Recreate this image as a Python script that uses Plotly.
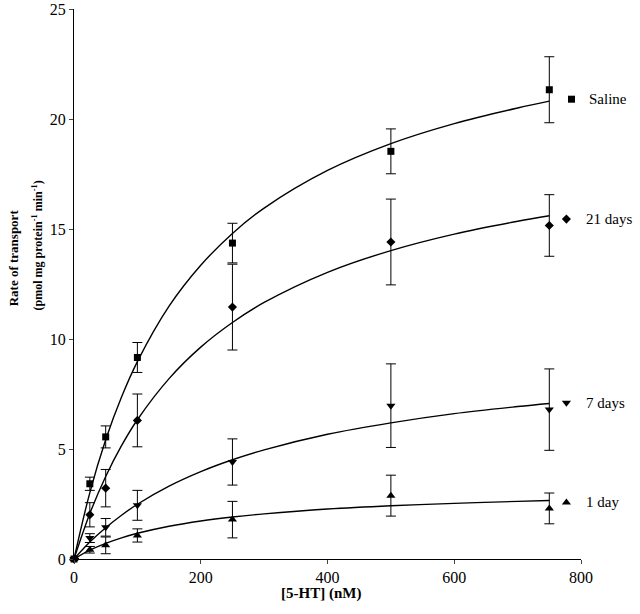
import plotly.graph_objects as go

# ---- data ----
conc = [0, 25, 50, 100, 250, 500, 750]

saline = [0, 3.42, 5.55, 9.16, 14.36, 18.53, 21.33]
saline_err = [0, 0.30, 0.50, 0.68, 0.90, 1.02, 1.50]

days21 = [0, 2.01, 3.22, 6.30, 11.45, 14.41, 15.16]
days21_err = [0, 0.55, 0.85, 1.20, 1.95, 1.95, 1.40]

days7 = [0, 0.95, 1.44, 2.44, 4.41, 6.97, 6.79]
days7_err = [0, 0.20, 0.40, 0.68, 1.05, 1.90, 1.85]

day1 = [0, 0.42, 0.62, 1.07, 1.79, 2.88, 2.30]
day1_err = [0, 0.15, 0.38, 0.30, 0.83, 0.93, 0.70]

# fitted curves
curve_x = [0, 25, 50, 75, 100, 150, 200, 250, 300, 400, 500, 600, 700, 750]
saline_curve = [0, 3.02, 5.42, 7.36, 8.97, 11.49, 13.35, 14.80, 15.95, 17.66, 18.88, 19.79, 20.50, 20.81]
days21_curve = [0, 2.07, 3.75, 5.15, 6.33, 8.20, 9.63, 10.75, 11.66, 13.03, 14.02, 14.77, 15.35, 15.60]
days7_curve = [0, 0.77, 1.42, 1.99, 2.49, 3.31, 3.97, 4.51, 4.96, 5.67, 6.19, 6.61, 6.93, 7.07]
day1_curve = [0, 0.40, 0.71, 0.96, 1.17, 1.49, 1.73, 1.91, 2.05, 2.27, 2.42, 2.53, 2.62, 2.66]

labels = ["Saline", "21 days", "7 days", "1 day"]
label_y = [20.9, 15.45, 7.1, 2.57]

x_ticks = [0, 200, 400, 600, 800]
y_ticks = [0, 5, 10, 15, 20, 25]

FONT = "Liberation Serif"
series = [
    (saline, saline_err, saline_curve, "square", 7),
    (days21, days21_err, days21_curve, "diamond", 7),
    (days7, days7_err, days7_curve, "triangle-down", 8),
    (day1, day1_err, day1_curve, "triangle-up", 8),
]

fig = go.Figure()
for ys, es, cy, sym, sz in series:
    fig.add_trace(go.Scatter(
        x=curve_x, y=cy, mode="lines", line=dict(color="black", width=1.4, shape="spline"),
        showlegend=False, hoverinfo="skip", cliponaxis=False))
    fig.add_trace(go.Scatter(
        x=conc, y=ys, mode="markers",
        marker=dict(symbol=sym, size=sz, color="black"),
        error_y=dict(type="data", array=es, visible=True, color="black", thickness=1, width=5),
        showlegend=False, cliponaxis=False))

# label markers and texts at the right
label_x = [785, 777, 777, 777]
text_px = [1.012, 1.005, 1.005, 1.005]
for (ys, es, cy, sym, sz), lab, ly, lx, tx in zip(series, labels, label_y, label_x, text_px):
    fig.add_trace(go.Scatter(x=[lx], y=[ly], mode="markers",
                             marker=dict(symbol=sym, size=sz, color="black"),
                             showlegend=False, cliponaxis=False))
    fig.add_annotation(x=tx, y=ly, xref="paper", yref="y", text=lab, showarrow=False,
                       xanchor="left", yanchor="middle",
                       font=dict(family=FONT, size=15, color="black"))

# y-axis title (two bold lines)
fig.add_annotation(x=-0.120, y=0.547, xref="paper", yref="paper", textangle=-90,
                   text="<b>Rate of transport</b>", showarrow=False,
                   xanchor="center", yanchor="middle",
                   font=dict(family=FONT, size=13, color="black"))
fig.add_annotation(x=-0.072, y=0.571, xref="paper", yref="paper", textangle=-90,
                   text="<b>(pmol mg protein<sup>-1</sup> min<sup>-1</sup>)</b>", showarrow=False,
                   xanchor="center", yanchor="middle",
                   font=dict(family=FONT, size=12, color="black"))
# x-axis title
fig.add_annotation(x=0.487, y=-0.062, xref="paper", yref="paper",
                   text="<b>[5-HT] (nM)</b>", showarrow=False,
                   xanchor="center", yanchor="middle",
                   font=dict(family=FONT, size=15, color="black"))

fig.update_layout(
    width=640, height=614,
    margin=dict(l=74, r=59, t=9, b=55, autoexpand=False),
    paper_bgcolor="white", plot_bgcolor="white",
    font=dict(family=FONT, size=16, color="black"),
    showlegend=False,
)
fig.update_xaxes(
    range=[0, 800], tickvals=x_ticks, ticks="outside", ticklen=4, tickwidth=1,
    showline=True, linecolor="black", linewidth=1, showgrid=False, zeroline=False,
    tickfont=dict(family=FONT, size=16), automargin=False,
)
fig.update_yaxes(
    range=[0, 25], tickvals=y_ticks, ticks="outside", ticklen=4, tickwidth=1,
    showline=True, linecolor="black", linewidth=1, showgrid=False, zeroline=False,
    tickfont=dict(family=FONT, size=16), automargin=False,
)

fig.write_html("out.html", config={"displayModeBar": False},
               post_script="document.body.style.margin='0';")
